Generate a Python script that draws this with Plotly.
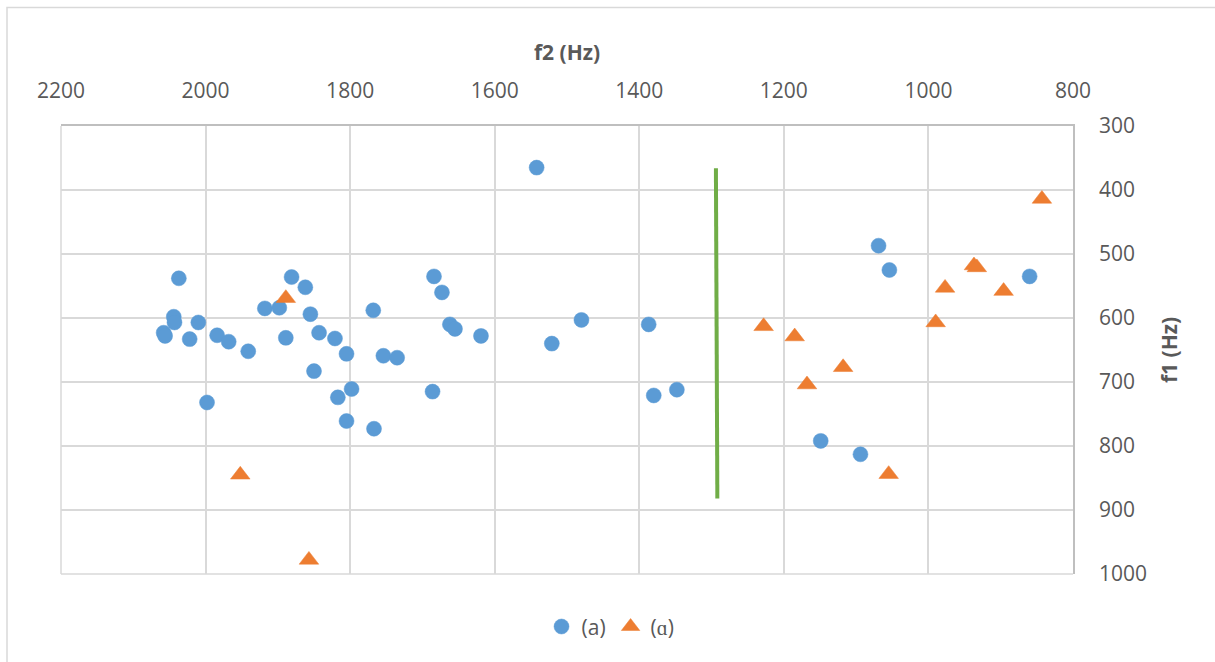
import plotly.graph_objects as go

# Series (a): circles  (f2, f1 in Hz)
a_f2 = [2037, 1881, 1862, 1918, 1898, 1855, 2044, 2043, 2058, 2056, 2010, 2022, 1984,
        1968, 1941, 1889, 1998, 1843, 1821, 1805, 1850, 1798, 1817, 1805, 1767, 1768,
        1754, 1735, 1684, 1673, 1662, 1655, 1686, 1542, 1619, 1480, 1521, 1387, 1380,
        1348, 1149, 1094, 1069, 1054, 860]
a_f1 = [538, 536, 552, 585, 584, 594, 598, 607, 623, 628, 607, 633, 627,
        637, 652, 631, 732, 623, 632, 656, 683, 711, 724, 761, 773, 588,
        659, 662, 535, 560, 610, 617, 715, 365, 628, 603, 640, 610, 721,
        712, 792, 813, 487, 525, 535]

# Series (ɑ): triangles
alpha_f2 = [1889, 1952, 1857, 1228, 1185, 1118, 1168, 1055, 843, 937, 933, 977, 896, 990]
alpha_f1 = [569, 845, 978, 613, 629, 677, 704, 844, 414, 518, 521, 553, 558, 607]

# Divider line
line_f2 = [1294, 1292]
line_f1 = [366, 882]

x_ticks = [2200, 2000, 1800, 1600, 1400, 1200, 1000, 800]
y_ticks = [300, 400, 500, 600, 700, 800, 900, 1000]

FONT = "Open Sans"
TXT = "#595959"
FS = 21

fig = go.Figure()
fig.add_trace(go.Scatter(
    x=a_f2, y=a_f1, mode="markers", name="(a)",
    marker=dict(symbol="circle", size=15, color="#5B9BD5",
                line=dict(color="#5B9BD5", width=0.5)),
))
fig.add_trace(go.Scatter(
    x=alpha_f2, y=alpha_f1, mode="markers", name="(\u0251)",
    marker=dict(symbol="triangle-up", size=17, color="#ED7D31",
                line=dict(color="#ED7D31", width=0.5)),
))
fig.add_trace(go.Scatter(
    x=line_f2, y=line_f1, mode="lines", showlegend=False,
    line=dict(color="#70AD47", width=4),
))

fig.update_layout(
    width=1215, height=662,
    margin=dict(l=61, r=142, t=126, b=88),
    paper_bgcolor="white", plot_bgcolor="white",
    font=dict(family=FONT, size=FS, color=TXT),
    showlegend=True,
    legend=dict(orientation="h", x=0.543, xanchor="center", y=-0.118, yanchor="middle",
                font=dict(family=FONT, size=FS, color=TXT),
                itemwidth=30, tracegroupgap=0, bgcolor="rgba(0,0,0,0)"),
    shapes=[
        dict(type="rect", xref="paper", yref="paper",
             x0=(7 - 61) / 1012, x1=(1240 - 61) / 1012,
             y0=(574.3 - 690) / 448.6, y1=(574.3 - 7) / 448.6,
             line=dict(color="#D9D9D9", width=1.5), fillcolor="rgba(0,0,0,0)", layer="below"),
        dict(type="line", xref="paper", yref="paper", x0=0, x1=0, y0=0, y1=1,
             line=dict(color="#D9D9D9", width=1.5), layer="below"),
        dict(type="line", xref="paper", yref="paper", x0=0, x1=1, y0=0, y1=0,
             line=dict(color="#D9D9D9", width=1.5), layer="below"),
    ],
)

fig.update_xaxes(
    range=[2200, 800], side="top", tickvals=x_ticks, ticktext=[str(v) for v in x_ticks],
    showgrid=True, gridcolor="#D9D9D9", gridwidth=1.5,
    showline=True, linecolor="#BFBFBF", linewidth=1.5, mirror=False,
    zeroline=False, ticks="", ticklabelstandoff=18,
    tickfont=dict(family=FONT, size=FS, color=TXT),
    title=dict(text="<b>f2 (Hz)</b>", font=dict(family=FONT, size=FS, color=TXT), standoff=9),
)
fig.update_yaxes(
    range=[1000, 300], side="right", tickvals=y_ticks, ticktext=[str(v) for v in y_ticks],
    showgrid=True, gridcolor="#D9D9D9", gridwidth=1.5,
    showline=True, linecolor="#BFBFBF", linewidth=1.5, mirror=False,
    zeroline=False, ticks="", ticklabelstandoff=20,
    tickfont=dict(family=FONT, size=FS, color=TXT),
    title=dict(text="<b>f1 (Hz)</b>", font=dict(family=FONT, size=FS, color=TXT), standoff=16),
)

fig.write_html("out.html")
